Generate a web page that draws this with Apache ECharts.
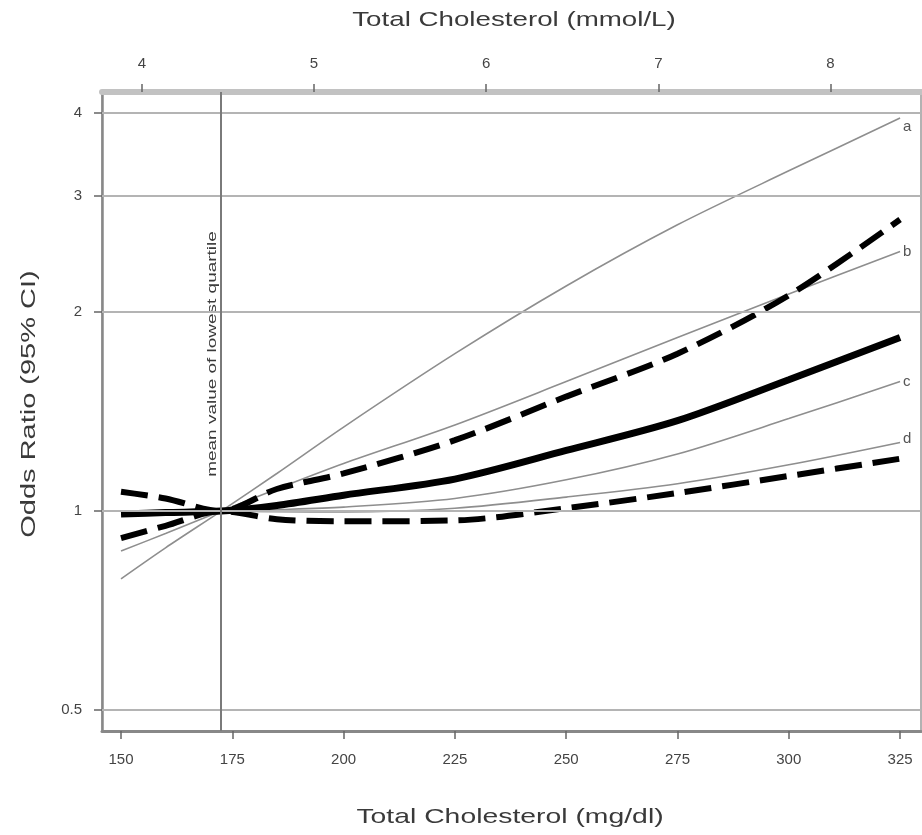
<!DOCTYPE html>
<html>
<head>
<meta charset="utf-8">
<script src="https://cdn.jsdelivr.net/npm/echarts@6/dist/echarts.min.js"></script>
<style>
  html, body { margin: 0; padding: 0; background: #fff; }
  #chart { width: 922px; height: 835px; }
</style>
</head>
<body>
<div id="chart"></div>
<script>
// total cholesterol, mg/dl
const xMgdl = [150, 160, 172.5, 185, 200, 225, 250, 275, 300, 325];

// thin grey comparison lines a-d (odds ratio)
const lineA = [0.79, 0.88, 1.0, 1.14, 1.34, 1.73, 2.19, 2.71, 3.27, 3.93];
const lineB = [0.87, 0.925, 1.0, 1.08, 1.18, 1.35, 1.57, 1.83, 2.13, 2.47];
const lineC = [0.99, 0.995, 1.0, 1.005, 1.014, 1.045, 1.115, 1.22, 1.38, 1.57];
const lineD = [1.0, 1.0, 1.0, 0.998, 0.997, 1.01, 1.05, 1.1, 1.175, 1.27];

// spline estimate and 95% CI
const orMid = [0.99, 0.995, 1.0, 1.02, 1.057, 1.118, 1.235, 1.37, 1.58, 1.83];
const ciUpper = [1.07, 1.045, 1.0, 1.08, 1.14, 1.28, 1.49, 1.73, 2.12, 2.76];
const ciLower = [0.91, 0.95, 1.0, 0.972, 0.965, 0.968, 1.01, 1.065, 1.13, 1.2];

const yTicks = [0.5, 1, 2, 3, 4];
const xTicks = [150, 175, 200, 225, 250, 275, 300, 325];
const mmolTicks = [4, 5, 6, 7, 8];
const refValue = 172.5;
const mgPerMmol = 38.67;

const xMin = 145.73, xMax = 329.7;
const yMin = 0.465, yMax = 4.303;

const pairs = ys => xMgdl.map((x, i) => [x, ys[i]]);
const font = "'Liberation Sans', Arial, sans-serif";

const myChart = echarts.init(document.getElementById('chart'));

const thin = (name, ys, label, offset) => ({
  name: name,
  type: 'line',
  data: pairs(ys),
  smooth: 0.3,
  showSymbol: false,
  silent: true,
  lineStyle: { color: '#8e8e8e', width: 1.6 },
  endLabel: {
    show: true,
    formatter: label,
    color: '#555',
    fontFamily: font,
    fontSize: 15,
    distance: 3,
    offset: offset
  }
});

const thick = (name, ys, dashed) => ({
  name: name,
  type: 'line',
  data: pairs(ys),
  smooth: 0.3,
  showSymbol: false,
  silent: true,
  lineStyle: {
    color: '#000',
    width: dashed ? 6 : 7,
    type: dashed ? [27, 11] : 'solid',
    cap: 'butt'
  }
});

// axis titles are drawn wide, like the stretched type of the original
const title = (text, x, y, rot, sx) => ({
  type: 'text',
  x: x, y: y,
  rotation: rot,
  scaleX: sx,
  silent: true,
  style: {
    text: text,
    font: '21px ' + font,
    fill: '#3a3a3a',
    align: 'center',
    verticalAlign: 'middle'
  }
});

myChart.setOption({
  animation: false,
  backgroundColor: '#fff',
  grid: {
    left: 102, right: 1, top: 92, bottom: 104,
    show: true, borderColor: '#999', borderWidth: 1.5
  },
  xAxis: [
    {
      type: 'value',
      position: 'bottom',
      min: xMin, max: xMax,
      axisLine: { show: true, onZero: false, lineStyle: { color: '#888', width: 3 } },
      axisTick: { show: true, customValues: xTicks, length: 8, lineStyle: { color: '#666', width: 1.5 } },
      axisLabel: { customValues: xTicks, color: '#444', fontSize: 15, fontFamily: font, margin: 21 },
      splitLine: { show: false }
    },
    {
      type: 'value',
      position: 'top',
      min: xMin / mgPerMmol, max: xMax / mgPerMmol,
      axisLine: { show: true, onZero: false, lineStyle: { color: '#c2c2c2', width: 6 } },
      axisTick: { show: true, customValues: mmolTicks, length: 8, lineStyle: { color: '#666', width: 1.5 } },
      axisLabel: { customValues: mmolTicks, color: '#444', fontSize: 15, fontFamily: font, margin: 21 },
      splitLine: { show: false }
    }
  ],
  yAxis: {
    type: 'log',
    logBase: 2,
    min: yMin, max: yMax,
    axisLine: { show: true, onZero: false, lineStyle: { color: '#888', width: 2.5 } },
    axisTick: { show: true, customValues: yTicks, length: 8, lineStyle: { color: '#666', width: 1.5 } },
    axisLabel: {
      customValues: yTicks, color: '#444', fontSize: 15, fontFamily: font, margin: 20,
      formatter: v => String(v)
    },
    splitLine: { show: false }
  },
  graphic: [
    title('Total Cholesterol (mmol/L)', 514, 20, 0, 1.32),
    title('Total Cholesterol (mg/dl)', 510, 817, 0, 1.35),
    title('Odds Ratio (95% CI)', 29, 404, Math.PI / 2, 1.38),
    {
      type: 'text',
      x: 213, y: 354,
      rotation: Math.PI / 2,
      scaleX: 1.58,
      silent: true,
      style: {
        text: 'mean value of lowest quartile',
        font: '12px ' + font,
        fill: '#3a3a3a',
        align: 'center',
        verticalAlign: 'middle'
      }
    }
  ],
  series: [
    {
      name: 'grid',
      type: 'line',
      data: [],
      silent: true,
      markLine: {
        silent: true,
        symbol: 'none',
        label: { show: false },
        lineStyle: { color: '#b4b4b4', width: 2, type: 'solid' },
        data: yTicks.map(v => ({ yAxis: v }))
          .concat([{ xAxis: refValue, lineStyle: { color: '#7a7a7a', width: 2 } }])
      }
    },
    thin('a', lineA, 'a', [0, 9]),
    thin('b', lineB, 'b', [0, 0]),
    thin('c', lineC, 'c', [0, 0]),
    thin('d', lineD, 'd', [0, -4]),
    thick('upper', ciUpper, true),
    thick('lower', ciLower, true),
    thick('or', orMid, false)
  ]
});

window.addEventListener('resize', () => myChart.resize());
</script>
</body>
</html>
